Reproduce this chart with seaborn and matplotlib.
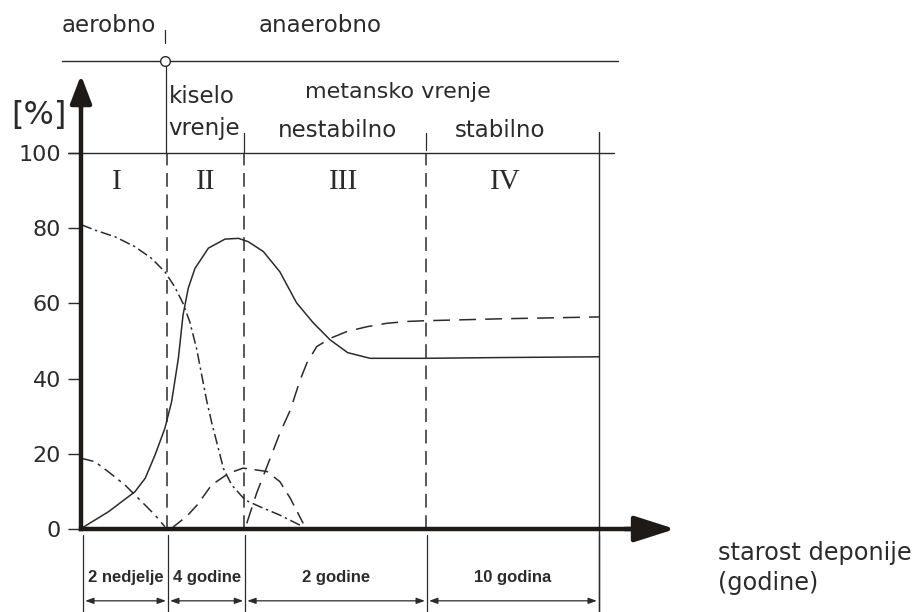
import numpy as np
import pandas as pd
import matplotlib
matplotlib.use("Agg")
import matplotlib.pyplot as plt
from matplotlib import font_manager as fm
import seaborn as sns

# ---------------- data ----------------
# x: position along landfill age axis (0 = start, 100 = end of phase IV)
# y: gas composition [%]
phase_bounds = [0, 16.6, 31.5, 66.6, 100]
phase_names = ["I", "II", "III", "IV"]
durations = ["2 nedjelje", "4 godine", "2 godine", "10 godina"]
yticks = [0, 20, 40, 60, 80, 100]

curveA_x = [0.1, 2.7, 6.6, 10.4, 13.6, 16.2, 18.1, 19.7, 21.0, 22.3, 23.3, 24.3, 25.2, 26.5, 27.5,
            29.1, 31.7, 34.6, 38.4, 42.9]
curveA_y = [80.9, 79.5, 77.7, 75.1, 72.0, 68.4, 64.4, 60.0, 55.1, 48.1, 41.0, 33.9, 28.5, 21.5, 16.1,
            11.7, 7.7, 5.9, 3.7, 0.6]

curveB_x = [0.1, 5.3, 10.4, 12.4, 14.3, 16.2, 17.5, 18.8, 19.7, 20.7, 22.0, 24.6, 27.8, 30.4, 32.3,
            35.2, 38.4, 41.6, 44.8, 48.1, 51.5, 55.8, 66.7, 80.9, 100.0]
curveB_y = [0.2, 4.6, 9.9, 13.5, 19.7, 26.8, 33.9, 45.4, 56.9, 64.0, 69.3, 74.7, 77.1, 77.3, 76.4,
            73.8, 68.4, 60.2, 54.9, 50.3, 46.9, 45.4, 45.4, 45.6, 45.8]

curveC_x = [0.1, 2.7, 5.3, 8.5, 11.7, 14.3, 16.2]
curveC_y = [18.8, 17.9, 15.2, 11.7, 7.3, 3.7, 0.6]

curveD_x = [17.5, 20.5, 22.5, 25.2, 28.5, 31.3, 35.9, 38.4, 40.4, 42.9]
curveD_y = [0.2, 3.5, 6.5, 11.7, 14.8, 16.2, 15.3, 12.6, 8.2, 1.5]

curveE_x = [32.0, 33.9, 35.9, 38.4, 40.4, 42.3, 43.6, 45.5, 48.1, 51.3, 55.2, 59.0, 62.9, 66.7, 80.9, 100.0]
curveE_y = [1.5, 9.5, 16.6, 25.5, 31.6, 39.6, 44.1, 48.5, 50.7, 52.5, 53.8, 54.7, 55.2, 55.4, 55.9, 56.4]

# ---------------- figure ----------------
sns.set_style("white")
plt.rcParams["font.family"] = ["DejaVu Sans"]

installed = {f.name for f in fm.fontManager.ttflist}
if "Liberation Sans Narrow" in installed:
    dur_font, dur_size = ["Liberation Sans Narrow", "DejaVu Sans"], 15
else:
    dur_font, dur_size = ["Liberation Sans", "DejaVu Sans"], 12

fig = plt.figure(figsize=(9.19, 6.12), dpi=100)
ax = fig.add_axes([0, 0, 1, 1])
ax.set_xlim(-15.64, 161.8)
ax.set_ylim(-22.07, 140.69)

INK = "#2b2b2b"

frames = []
for name, xs, ys in [("A", curveA_x, curveA_y), ("B", curveB_x, curveB_y), ("C", curveC_x, curveC_y),
                     ("D", curveD_x, curveD_y), ("E", curveE_x, curveE_y)]:
    frames.append(pd.DataFrame({"x": xs, "y": ys, "gas": name}))
df = pd.concat(frames, ignore_index=True)

styles = {"A": (0, (7, 2.5, 1.5, 2.5)), "B": "-", "C": (0, (8, 3.5, 2, 3.5)),
          "D": (0, (9, 5)), "E": (0, (11, 6))}
for g, sub in df.groupby("gas"):
    sns.lineplot(data=sub, x="x", y="y", ax=ax, color=INK, lw=1.1, sort=False,
                 linestyle=styles[g], legend=False)

# axes spines as arrows
for s in ["top", "right"]:
    ax.spines[s].set_visible(False)
ax.spines["left"].set_position(("data", 0))
ax.spines["bottom"].set_position(("data", 0))
ax.spines["left"].set_bounds(0, 115)
ax.spines["bottom"].set_bounds(0, 108)
ax.spines["left"].set_linewidth(3.2)
ax.spines["bottom"].set_linewidth(3.2)
ax.spines["left"].set_color("#1e1a18")
ax.spines["bottom"].set_color("#1e1a18")
ax.set_xticks([])
ax.set_yticks(yticks)
ax.set_yticklabels([str(v) for v in yticks])
ax.tick_params(axis="y", direction="out", length=9.4, width=1.0, pad=5, labelsize=16,
               colors=INK, left=True)
ax.set_xlabel("")
ax.set_ylabel("")

ax.annotate("", xy=(0, 120.7), xytext=(0, 112), arrowprops=dict(
    arrowstyle="-|>,head_length=1.7,head_width=0.65", lw=3.2, color="#1e1a18", mutation_scale=10,
    shrinkA=0, shrinkB=0))
ax.annotate("", xy=(114.7, 0), xytext=(105, 0), arrowprops=dict(
    arrowstyle="-|>,head_length=2.5,head_width=0.8", lw=3.2, color="#1e1a18", mutation_scale=10,
    shrinkA=0, shrinkB=0))

# phase dividers
for xb in phase_bounds[1:4]:
    ax.plot([xb, xb], [0, 100], color=INK, lw=1.1, linestyle=(0, (9, 5)))
ax.plot([100, 100], [-22.07, 105.6], color=INK, lw=1.0)
ax.plot([-2.5, 102.9], [100, 100], color=INK, lw=1.0)
ax.plot([-3.7, 103.7], [124.5, 124.5], color=INK, lw=1.0)
ax.plot([16.4, 16.4], [100, 124.5], color=INK, lw=0.9)
ax.plot([16.2, 16.2], [129.2, 132.8], color=INK, lw=0.9)
ax.plot([16.2], [124.5], marker="o", ms=7, mfc="white", mec=INK, mew=1.0)
ax.plot([phase_bounds[2]] * 2, [100, 105.3], color=INK, lw=0.9)
ax.plot([phase_bounds[3]] * 2, [100.8, 105.3], color=INK, lw=0.9)

# bottom duration scale
seg = [0.4, 16.8, 31.7, 66.8, 100]
for xb in seg:
    ax.plot([xb, xb], [-1.5, -22.07], color=INK, lw=0.9)
for i, lab in enumerate(durations):
    a, b = seg[i], seg[i + 1]
    ax.annotate("", xy=(b - 0.4, -19.1), xytext=(a + 0.4, -19.1), arrowprops=dict(
        arrowstyle="<|-|>,head_length=0.5,head_width=0.18", lw=0.9, color=INK,
        mutation_scale=10, shrinkA=0, shrinkB=0))
    ax.text((a + b) / 2, -12.8, lab, ha="center", va="center", fontsize=dur_size, fontweight="bold",
            family=dur_font, color=INK)

# phase numerals
for i, nm in enumerate(phase_names):
    cx = [6.95, 24.1, 50.6, 81.9][i]
    ax.text(cx, 92.3, nm, ha="center", va="center", fontsize=21,
            family=["Liberation Serif", "DejaVu Serif"], color=INK)

# labels
txt = dict(color=INK, va="center", ha="left")
ax.text(-3.7, 134.0, "aerobno", fontsize=16.5, **txt)
ax.text(34.2, 134.0, "anaerobno", fontsize=16.5, **txt)
ax.text(16.9, 114.9, "kiselo", fontsize=16.5, **txt)
ax.text(16.9, 106.4, "vrenje", fontsize=16.5, **txt)
ax.text(43.2, 116.2, "metansko vrenje", fontsize=16, **txt)
ax.text(38.0, 106.1, "nestabilno", fontsize=16.5, **txt)
ax.text(72.2, 106.1, "stabilno", fontsize=16.5, **txt)
ax.text(-13.5, 110.1, "[%]", fontsize=23, **txt)
ax.text(123.0, -6.4, "starost deponije", fontsize=17.3, **txt)
ax.text(123.0, -14.4, "(godine)", fontsize=17.3, **txt)

fig.savefig("out.png", dpi=100)
